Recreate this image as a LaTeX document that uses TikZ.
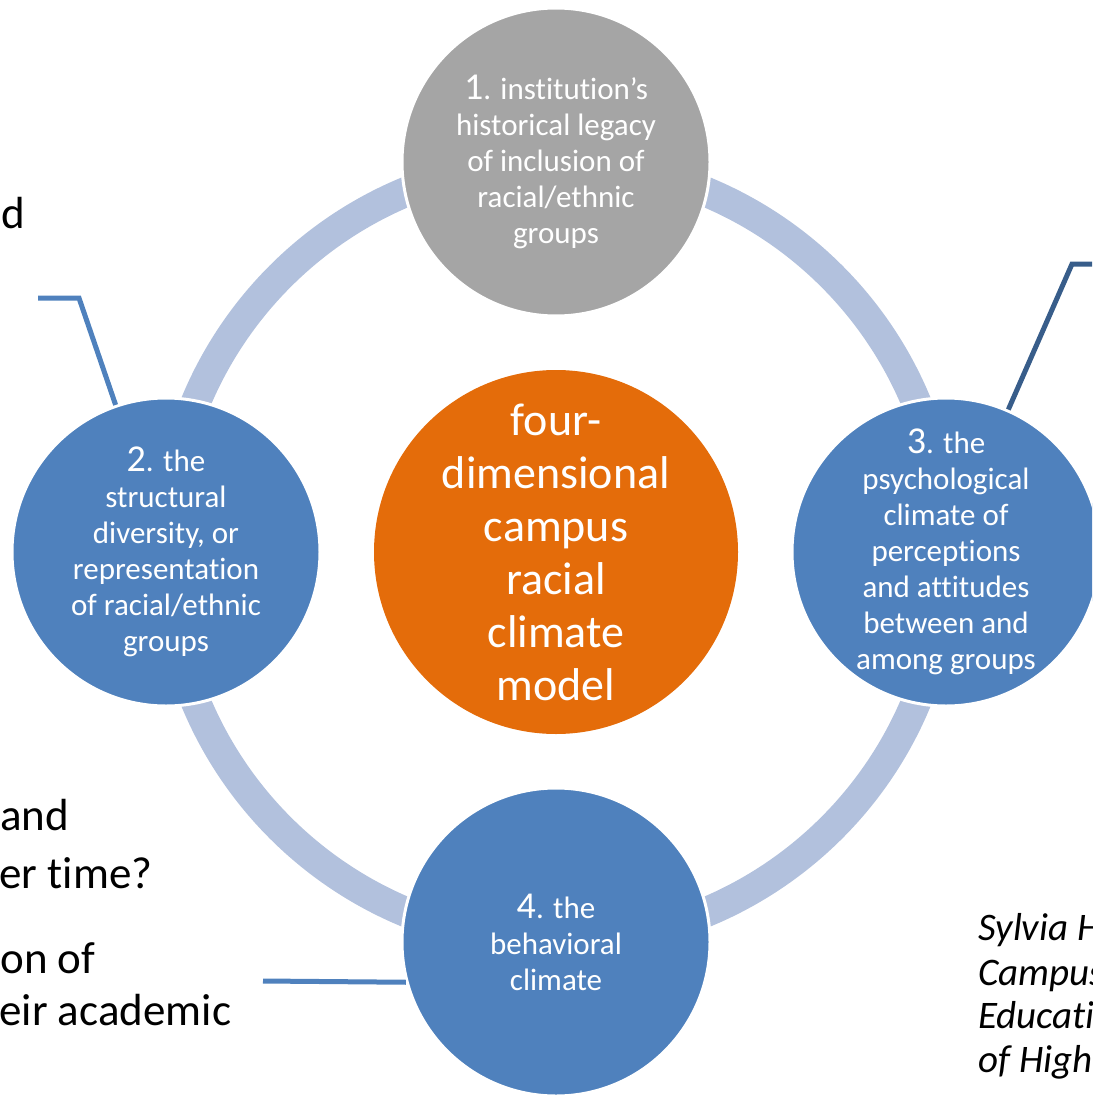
\documentclass[tikz,border=0pt]{standalone}
\usepackage{fontspec}
\setmainfont{Carlito}[Ligatures={NoCommon,NoRequired}]
\usepackage{xcolor}
\usetikzlibrary{positioning}

\definecolor{dimblue}{HTML}{4F81BD}
\definecolor{dimgray}{HTML}{A5A5A5}
\definecolor{dimorange}{HTML}{E46C0A}
\definecolor{ringblue}{HTML}{B2C1DD}
\definecolor{calloutdark}{HTML}{385D8A}

\newcommand{\bignum}[1]{{\fontsize{19}{18}\selectfont #1}}

\tikzset{
  dimnode/.style={circle,draw=white,line width=1.5pt,minimum size=154pt,inner sep=-12pt,
    text=white,align=center,font=\fontsize{15.5}{18}\selectfont},
  hubnode/.style={circle,fill=dimorange,minimum size=182pt,inner sep=-40pt,
    text=white,align=center,font=\fontsize{23}{26.5}\selectfont},
  sidetext/.style={anchor=base west,inner sep=0pt,font=\fontsize{22.5}{27.5}\selectfont},
  citetext/.style={anchor=base west,inner sep=0pt,font=\fontsize{19.5}{22}\selectfont\itshape},
  callout/.style={line width=2.5pt,draw=dimblue}
}

\begin{document}
\begin{tikzpicture}[x=0.5pt,y=-0.5pt,node distance=195pt]
\useasboundingbox (0,0) rectangle (1092,1097);
\clip (0,0) rectangle (1092,1097);

% hub and ring
\node (model) [hubnode] at (556,552) {four-\\dimensional\\campus\\racial\\climate\\model};
\draw [ringblue,line width=15pt] (model.center) circle (390);

% the four dimensions
\node (legacy) [dimnode,fill=dimgray,above of=model] {\bignum{1}. institution’s\\historical legacy\\of inclusion of\\racial/ethnic\\groups};
\node (structure) [dimnode,fill=dimblue,left of=model] {\bignum{2}. the\\structural\\diversity, or\\representation\\of racial/ethnic\\groups};
\node (psych) [dimnode,fill=dimblue,right of=model] {\bignum{3}. the\\psychological\\climate of\\perceptions\\and attitudes\\between and\\among groups};
\node (behavior) [dimnode,fill=dimblue,below of=model] {\bignum{4}. the\\behavioral\\climate};

% text cut off at the edges
\node (qd) [sidetext] at (1,228) {d};
\node (qand) [sidetext] at (0,830) {and};
\node (qtime) [sidetext] at (-1,888) {er time?};
\node (qon) [sidetext] at (0,973) {on of};
\node (qacad) [sidetext] at (-1,1025) {eir academic};

\node (cite1) [citetext] at (978,940) {Sylvia H};
\node (cite2) [citetext] at (978,985) {Campus};
\node (cite3) [citetext] at (978,1028) {Educati};
\node (cite4) [citetext] at (978,1072) {of High};

% callout lines
\coordinate (lefttip) at (38,298);
\coordinate (leftbend) at (79,298);
\coordinate (righttip) at (1100,264);
\coordinate (rightbend) at (1072,264);
\coordinate (bottomtip) at (263,981);

\draw [callout] (lefttip) -- (leftbend) -- (structure);
\draw [callout,draw=calloutdark] (righttip) -- (rightbend) -- (psych);
\draw [callout] (bottomtip) -- (behavior.195);
\end{tikzpicture}
\end{document}
